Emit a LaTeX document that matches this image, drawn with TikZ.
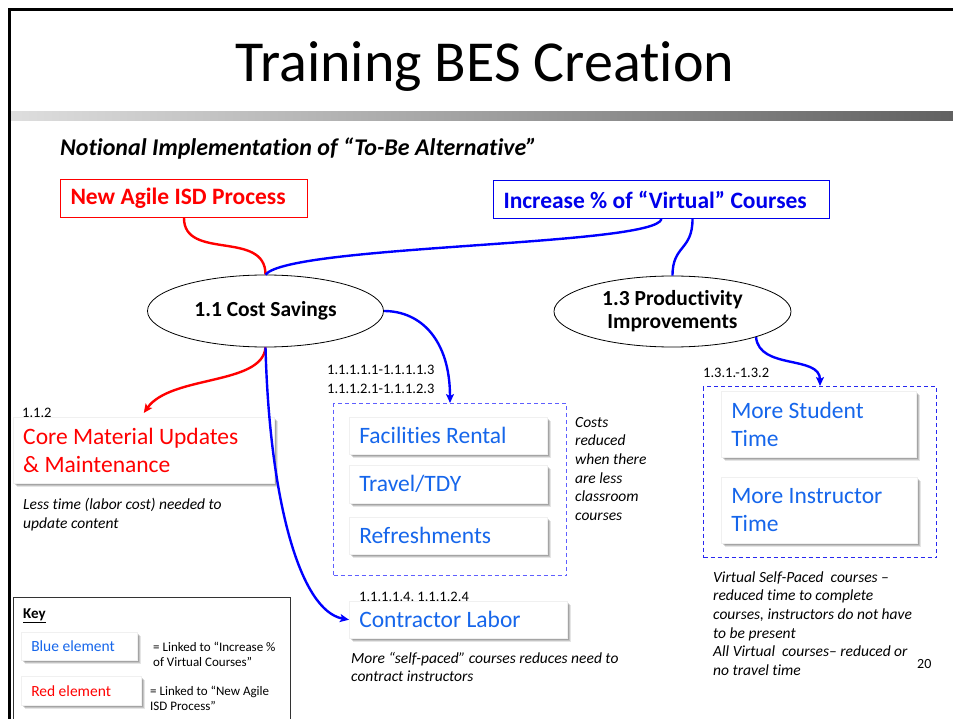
\documentclass[tikz,border=0pt]{standalone}
\usepackage{fontspec}
\setmainfont{Carlito}[Ligatures=NoCommon]
\usetikzlibrary{shapes.geometric,shadows,arrows.meta}

\definecolor{hdred}{RGB}{255,0,0}
\definecolor{hdblue}{RGB}{0,0,235}
\definecolor{elblue}{RGB}{22,102,235}
\definecolor{linkblue}{RGB}{0,0,255}
\definecolor{dashblue}{RGB}{95,95,255}
\definecolor{dashblueb}{RGB}{40,40,240}

\newcommand{\fsz}[2]{\fontsize{#1}{#2}\selectfont}

\begin{document}
\begin{tikzpicture}[x=1pt,y=-1pt,
  softshadow/.style={
    drop shadow={shadow xshift=1.5pt, shadow yshift=-1.5pt, opacity=0.16, fill=black},
    drop shadow={shadow xshift=2.5pt, shadow yshift=-2.5pt, opacity=0.14, fill=black},
    drop shadow={shadow xshift=3.5pt, shadow yshift=-3.5pt, opacity=0.10, fill=black}},
  hdbox/.style={draw, line width=1pt, anchor=north west, inner xsep=10pt, inner ysep=0pt,
    align=flush left, minimum height=38pt, font=\fsz{23.5}{28}\bfseries},
  elem/.style={fill=white, draw=black!6, line width=0.5pt, softshadow,
    anchor=north west, inner xsep=10pt, inner ysep=0pt, align=flush left,
    font=\fsz{23.5}{28}, text=elblue},
  keyelem/.style={elem, font=\fsz{15.5}{18}},
  goal/.style={ellipse, draw, line width=0.8pt, minimum width=236pt, minimum height=72pt,
    inner sep=0pt, align=center, font=\fsz{21.5}{23}\bfseries},
  dbox/.style={draw, dash pattern=on 4pt off 3pt, line width=1pt, anchor=north west, inner sep=0pt},
  note/.style={anchor=base west, inner sep=0pt, align=flush left, font=\fsz{15.5}{18.7}\itshape},
  num/.style={anchor=base west, inner sep=0pt, align=flush left, font=\fsz{14.5}{19}},
  keytxt/.style={anchor=base west, inner sep=0pt, align=flush left, font=\fsz{13}{15.5}},
  link/.style={line width=2.4pt},
  tip/.style={-{Stealth[length=9pt,width=8pt,inset=2pt]}}
]
\useasboundingbox (0,0) rectangle (953,719);
\clip (0,0) rectangle (953,719);
\fill[white] (0,0) rectangle (953,719);

% slide frame and title band
\draw[line width=3pt] (9.5,719) -- (9.5,9.5) -- (953,9.5);
\shade[left color=black!13, right color=black!62] (11,112) rectangle (953,121);
\node[anchor=base, inner sep=0pt, font=\fsz{58}{60}] (title) at (485,82) {Training BES Creation};

\node[anchor=base west, inner sep=0pt, font=\fsz{24}{26}\bfseries\itshape] (sub) at (60,156)
  {Notional Implementation of “To-Be Alternative”};

% driving initiatives
\node[hdbox, draw=hdred, text=hdred, text width=227pt] (nap) at (60,179) {New Agile ISD Process};
\node[hdbox, draw=hdblue, text=hdblue, text width=316pt] (inc) at (493,180) {Increase \% of “Virtual” Courses};

% objectives
\node[goal] (cs) at (265.5,311) {1.1 Cost Savings};
\node[goal, minimum width=237pt, minimum height=71pt] (pi) at (672.5,311.5) {1.3 Productivity\\Improvements};

% cost elements (multi-line texts are placed by the baseline of their last line)
\node[num] (n112) at (22,417) {1.1.2};
\node[elem, text=hdred, text width=241pt, minimum height=66pt] (core) at (13,417)
  {Core Material Updates\\\& Maintenance};
\node[note] (corenote) at (23,528.5) {Less time (labor cost) needed to\\update content};

\node[num] (n111) at (327,393) {1.1.1.1.1-1.1.1.1.3\\1.1.1.2.1-1.1.1.2.3};
\node[dbox, draw=dashblue, minimum width=233pt, minimum height=172pt] (fbox) at (333,403) {};
\node[elem, text width=178pt, minimum height=37pt] (fac) at (349,417) {Facilities Rental};
\node[elem, text width=178pt, minimum height=38pt] (trv) at (349,465) {Travel/TDY};
\node[elem, text width=178pt, minimum height=37pt] (ref) at (349,517) {Refreshments};
\node[note] (fnote) at (575,520.5) {Costs\\reduced\\when there\\are less\\classroom\\courses};

\node[num] (n1114) at (359,601) {1.1.1.1.4, 1.1.1.2.4};
\node[elem, text width=198pt, minimum height=37pt] (cl) at (349,601) {Contractor Labor};
\node[note] (clnote) at (351,681.7) {More “self-paced” courses reduces need to\\contract instructors};

% productivity elements
\node[num] (n131) at (703,377) {1.3.1.-1.3.2};
\node[dbox, draw=dashblueb, minimum width=233pt, minimum height=171pt] (rbox) at (703,386) {};
\node[elem, text width=175pt, minimum height=66pt] (mst) at (721,391) {More Student\\Time};
\node[elem, text width=176pt, minimum height=66pt] (mit) at (721,477) {More Instructor\\Time};
\node[note] (pnote) at (713,675.5) {Virtual Self-Paced\ \ courses –\\reduced time to complete\\courses, instructors do not have\\to be present\\All Virtual\ \ courses– reduced or\\no travel time};
\node[anchor=base west, inner sep=0pt, font=\fsz{14}{16}] (pg) at (917,668) {20};

% key
\node[draw=black!80, line width=1pt, anchor=north west, minimum width=277pt, minimum height=140pt, inner sep=0pt] (key) at (13,597) {};
\node[anchor=base west, inner sep=0pt, font=\fsz{15}{18}\bfseries] (keyt) at (23,618) {\underline{Key}};
\node[keyelem, text width=96pt, minimum height=28pt] (kb) at (21,632) {Blue element};
\node[keytxt] (kbt) at (153,666.5) {= Linked to “Increase \%\\of Virtual Courses”};
\node[keyelem, text=hdred, text width=100pt, minimum height=29pt] (kr) at (21,676) {Red element};
\node[keytxt] (krt) at (150,710.5) {= Linked to “New Agile\\ISD Process”};

% links from initiatives to objectives
\draw[link, hdred] (nap.south) .. controls +(0,43) and +(0,-45) .. (cs.north);
\draw[link, linkblue] (inc.south) .. controls +(-6,27) and +(25,-30) .. (cs.north);
\draw[link, linkblue] ([xshift=31pt]inc.south) .. controls +(0,32) and +(0,-31) .. (pi.north);

% links from objectives to elements
\draw[link, hdred, tip] (cs.south) .. controls +(-3,38) and +(27,-38) .. ([yshift=4pt]core.north);
\draw[link, linkblue, tip] (cs.south) .. controls +(4,153) and +(-49,-9) .. (cl.west);
\draw[link, linkblue, tip] (cs.east) .. controls +(37,0) and +(0,-63) .. (fbox.north);
\draw[link, linkblue, tip] (pi.-17) .. controls +(3,33) and +(0,-31) .. (rbox.north);
\end{tikzpicture}
\end{document}
